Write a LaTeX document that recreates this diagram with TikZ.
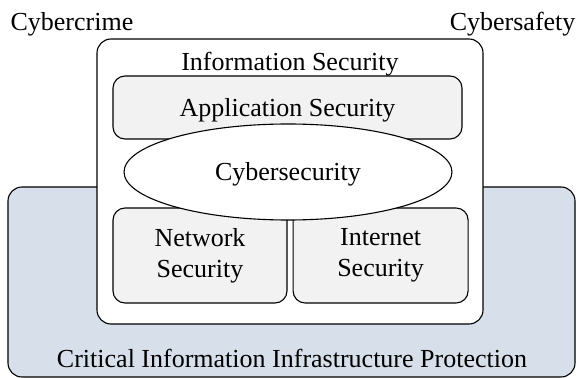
\documentclass[tikz,border=0pt]{standalone}
\usepackage{fontspec}
\setmainfont{Liberation Serif}
\usepackage{xcolor}
\usetikzlibrary{positioning,shapes.geometric}
\definecolor{cipblue}{HTML}{D6DFEA}

\begin{document}
\begin{tikzpicture}[x=1pt,y=1pt,font=\fontsize{26}{31}\selectfont,line width=1.1pt,node distance=5pt,
 area/.style={draw,rounded corners=14pt,inner sep=0pt},
 part/.style={draw,rounded corners=12pt,fill=gray!10,align=center,inner sep=0pt,minimum height=95pt,
  execute at begin node=\rule{0pt}{23pt}},
 lbl/.style={inner sep=0pt}]
\useasboundingbox (0,0) rectangle (582,378);
\node[area,fill=cipblue,minimum width=567pt,minimum height=190pt] (cip) at (291.5,96) {};
\node[area,fill=white,minimum width=386pt,minimum height=285pt] (infosec) at (290,196.5) {};
\node[part,minimum width=349pt,minimum height=63pt] (appsec) at (287.5,270.5) {Application Security};
\node[part,minimum width=174pt] (netsec) at (200,122.5) {Network\\Security};
\node[part,minimum width=175pt,right=of netsec] (inetsec) {Internet\\Security};
\node[draw,ellipse,fill=white,inner sep=0pt,minimum width=328pt,minimum height=96pt,
 execute at begin node=\rule{0pt}{23pt}] (cyber) at (288,206) {Cybersecurity};
\node[lbl,anchor=base] (infolbl) at (290,307) {Information Security};
\node[lbl,anchor=base] (ciplbl) at (292,10) {Critical Information Infrastructure Protection};
\node[lbl,anchor=base west] (crime) at (10,347) {Cybercrime};
\node[lbl,anchor=base east] (safety) at (576,347) {Cybersafety};
\end{tikzpicture}
\end{document}
